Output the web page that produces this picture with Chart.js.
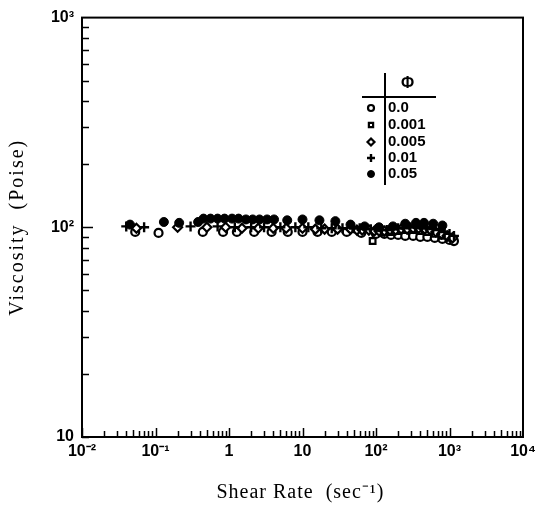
<!DOCTYPE html>
<html>
<head>
<meta charset="utf-8">
<script src="https://cdn.jsdelivr.net/npm/chart.js@4.4.1/dist/chart.umd.min.js"></script>
<style>
  html, body { margin: 0; padding: 0; background: #fff; }
  #wrap { width: 544px; height: 509px; }
</style>
</head>
<body>
<div id="wrap"><canvas id="visc"></canvas></div>
<script>
// volume fractions (phi) and measured viscosity vs shear rate
const phiLabels = ['0.0', '0.001', '0.005', '0.01', '0.05'];

const rate00 = [0.053, 0.11, 0.44, 0.83, 1.28, 2.2, 3.8, 6.3, 10, 16, 25, 40, 63, 100, 130, 160, 200, 250, 320, 400, 500, 630, 800, 1000, 1150];
const visc00 = [95, 94, 95, 95, 95, 95, 95, 95, 95, 95, 95, 95, 94, 93, 93, 92, 92, 91, 91, 90, 90, 89, 88, 87, 86];

const rate001 = [90, 120, 160, 200, 250, 320, 400, 500, 630, 800, 1000];
const visc001 = [86, 94, 95, 96, 97, 97, 96, 95, 93, 91, 89];

const rate005 = [0.055, 0.2, 0.5, 0.9, 1.5, 2.5, 4, 6, 10, 15, 20, 30, 45, 55, 65, 80, 95, 110, 130, 155, 185, 220, 265, 320, 380, 460, 550, 650, 780, 930, 1100];
const visc005 = [99, 100, 100, 100, 99, 99, 99, 99, 99, 98, 98, 98, 98, 97, 97, 97, 96, 96, 96, 97, 97, 98, 98, 99, 99, 98, 97, 95, 93, 91, 89];

const rate01 = [0.04, 0.07, 0.3, 0.7, 1.2, 2, 3, 5, 8, 12, 18, 25, 35, 50, 60, 70, 85, 100, 120, 140, 170, 200, 240, 290, 350, 420, 500, 600, 720, 860, 1000, 1150];
const visc01 = [101, 100, 101, 101, 100, 100, 100, 100, 100, 100, 99, 99, 99, 99, 99, 98, 98, 98, 97, 97, 98, 99, 99, 100, 100, 99, 99, 98, 97, 95, 93, 91];

const rate05 = [0.045, 0.13, 0.21, 0.38, 0.45, 0.56, 0.7, 0.87, 1.1, 1.35, 1.7, 2.1, 2.6, 3.3, 4.1, 6.2, 10, 17, 28, 45, 70, 110, 170, 250, 350, 450, 600, 800];
const visc05 = [103, 106, 105, 106, 110, 110, 110, 110, 110, 110, 109, 109, 109, 109, 109, 108, 109, 108, 107, 103, 101, 100, 101, 104, 105, 105, 104, 102];

const xTicks = [0.01, 0.1, 1, 10, 100, 1000, 10000];
const xTickText = ['10\u207B\u00B2', '10\u207B\u00B9', '1', '10', '10\u00B2', '10\u00B3', '10\u2074'];
const yTicks = [10, 100, 1000];
const yTickText = ['10', '10\u00B2', '10\u00B3'];

function pts(xs, ys) {
  return xs.map((x, i) => ({ x: x, y: ys[i] }));
}

const markers = [
  { pointStyle: 'circle', backgroundColor: '#fff', radius: 4, borderWidth: 2.2 },
  { pointStyle: 'rect', backgroundColor: '#fff', radius: 4, borderWidth: 2.2 },
  { pointStyle: 'rectRot', backgroundColor: '#fff', radius: 4.5, borderWidth: 2.2 },
  { pointStyle: 'cross', backgroundColor: '#000', radius: 5, borderWidth: 2.4 },
  { pointStyle: 'circle', backgroundColor: '#000', radius: 4.5, borderWidth: 1 }
];
// filled dots end up on top, open circles underneath
const drawOrder = [4, 3, 2, 1, 0];
const series = [pts(rate00, visc00), pts(rate001, visc001), pts(rate005, visc005), pts(rate01, visc01), pts(rate05, visc05)];

const datasets = series.map((d, i) => ({
  label: phiLabels[i],
  data: d,
  order: drawOrder[i],
  showLine: false,
  pointStyle: markers[i].pointStyle,
  pointRadius: markers[i].radius,
  pointBorderWidth: markers[i].borderWidth,
  pointBackgroundColor: markers[i].backgroundColor,
  pointBorderColor: '#000'
}));

// frame, inward log ticks, axis titles and the phi table
const framePlugin = {
  id: 'frame',
  afterDraw(chart) {
    const ctx = chart.ctx;
    const a = chart.chartArea;
    const xs = chart.scales.x, ys = chart.scales.y;
    ctx.save();
    ctx.strokeStyle = '#000';
    ctx.lineWidth = 2;
    ctx.strokeRect(a.left, a.top, a.right - a.left, a.bottom - a.top);

    ctx.lineWidth = 1.5;
    ctx.beginPath();
    for (let d = -2; d <= 3; d++) {
      for (let m = 1; m <= 9; m++) {
        const px = Math.round(xs.getPixelForValue(m * Math.pow(10, d))) + 0.5;
        const len = m === 1 ? 9 : (m === 5 ? 7 : 6);
        ctx.moveTo(px, a.bottom);
        ctx.lineTo(px, a.bottom - len);
      }
    }
    for (let d = 1; d <= 2; d++) {
      for (let m = 1; m <= 9; m++) {
        const py = Math.round(ys.getPixelForValue(m * Math.pow(10, d))) + 0.5;
        const len = (m === 1 && d === 2) ? 11 : 7;
        ctx.moveTo(a.left, py);
        ctx.lineTo(a.left + len, py);
      }
    }
    ctx.stroke();

    // axis titles
    ctx.fillStyle = '#000';
    ctx.textAlign = 'center';
    ctx.textBaseline = 'middle';
    ctx.font = '20px "Liberation Serif"';
    ctx.letterSpacing = '1px';
    ctx.fillText('Shear Rate  (sec\u207B\u00B9)', (a.left + a.right) / 2 - 2, 493);
    ctx.save();
    ctx.translate(18, (a.top + a.bottom) / 2);
    ctx.rotate(-Math.PI / 2);
    ctx.letterSpacing = '2px';
    ctx.fillText('Viscosity  (Poise)', 0, 0);
    ctx.restore();
    ctx.letterSpacing = '0px';

    // phi table
    ctx.lineWidth = 2;
    ctx.beginPath();
    ctx.moveTo(385, 73);
    ctx.lineTo(385, 185);
    ctx.moveTo(362, 97);
    ctx.lineTo(436, 97);
    ctx.stroke();

    ctx.textAlign = 'left';
    ctx.font = 'bold 16px "Liberation Sans"';
    ctx.fillText('\u03A6', 401, 84);
    ctx.font = 'bold 15px "Liberation Sans"';
    const rows = [108, 125, 142, 158, 174];
    phiLabels.forEach((lab, i) => {
      ctx.fillText(lab, 388, rows[i]);
      const mk = markers[i];
      ctx.fillStyle = mk.backgroundColor;
      ctx.strokeStyle = '#000';
      ctx.lineWidth = mk.borderWidth;
      Chart.helpers.drawPoint(ctx, { pointStyle: mk.pointStyle, radius: mk.radius - 1, rotation: 0, borderWidth: mk.borderWidth }, 371, rows[i]);
      ctx.fillStyle = '#000';
    });
    ctx.restore();
  }
};

new Chart(document.getElementById('visc'), {
  type: 'scatter',
  data: { datasets: datasets },
  plugins: [framePlugin],
  options: {
    responsive: true,
    maintainAspectRatio: false,
    animation: false,
    layout: { padding: { top: 12, right: 21, left: 0, bottom: 0 } },
    plugins: { legend: { display: false }, tooltip: { enabled: false } },
    scales: {
      x: {
        type: 'logarithmic',
        min: 0.01,
        max: 10000,
        grid: { display: false, drawTicks: false },
        border: { display: false },
        afterBuildTicks: s => { s.ticks = xTicks.map(v => ({ value: v, major: true })); },
        afterFit: s => { s.height = 72; },
        ticks: {
          autoSkip: false,
          maxRotation: 0,
          padding: 5,
          color: '#000',
          font: { family: 'Liberation Sans', size: 16, weight: 'bold' },
          callback: v => xTickText[xTicks.indexOf(v)]
        }
      },
      y: {
        type: 'logarithmic',
        min: 10,
        max: 1000,
        grid: { display: false, drawTicks: false },
        border: { display: false },
        afterBuildTicks: s => { s.ticks = yTicks.map(v => ({ value: v, major: true })); },
        afterFit: s => { s.width = 82; },
        ticks: {
          autoSkip: false,
          padding: 8,
          color: '#000',
          font: { family: 'Liberation Sans', size: 16, weight: 'bold' },
          callback: v => yTickText[yTicks.indexOf(v)]
        }
      }
    }
  }
});
</script>
</body>
</html>
